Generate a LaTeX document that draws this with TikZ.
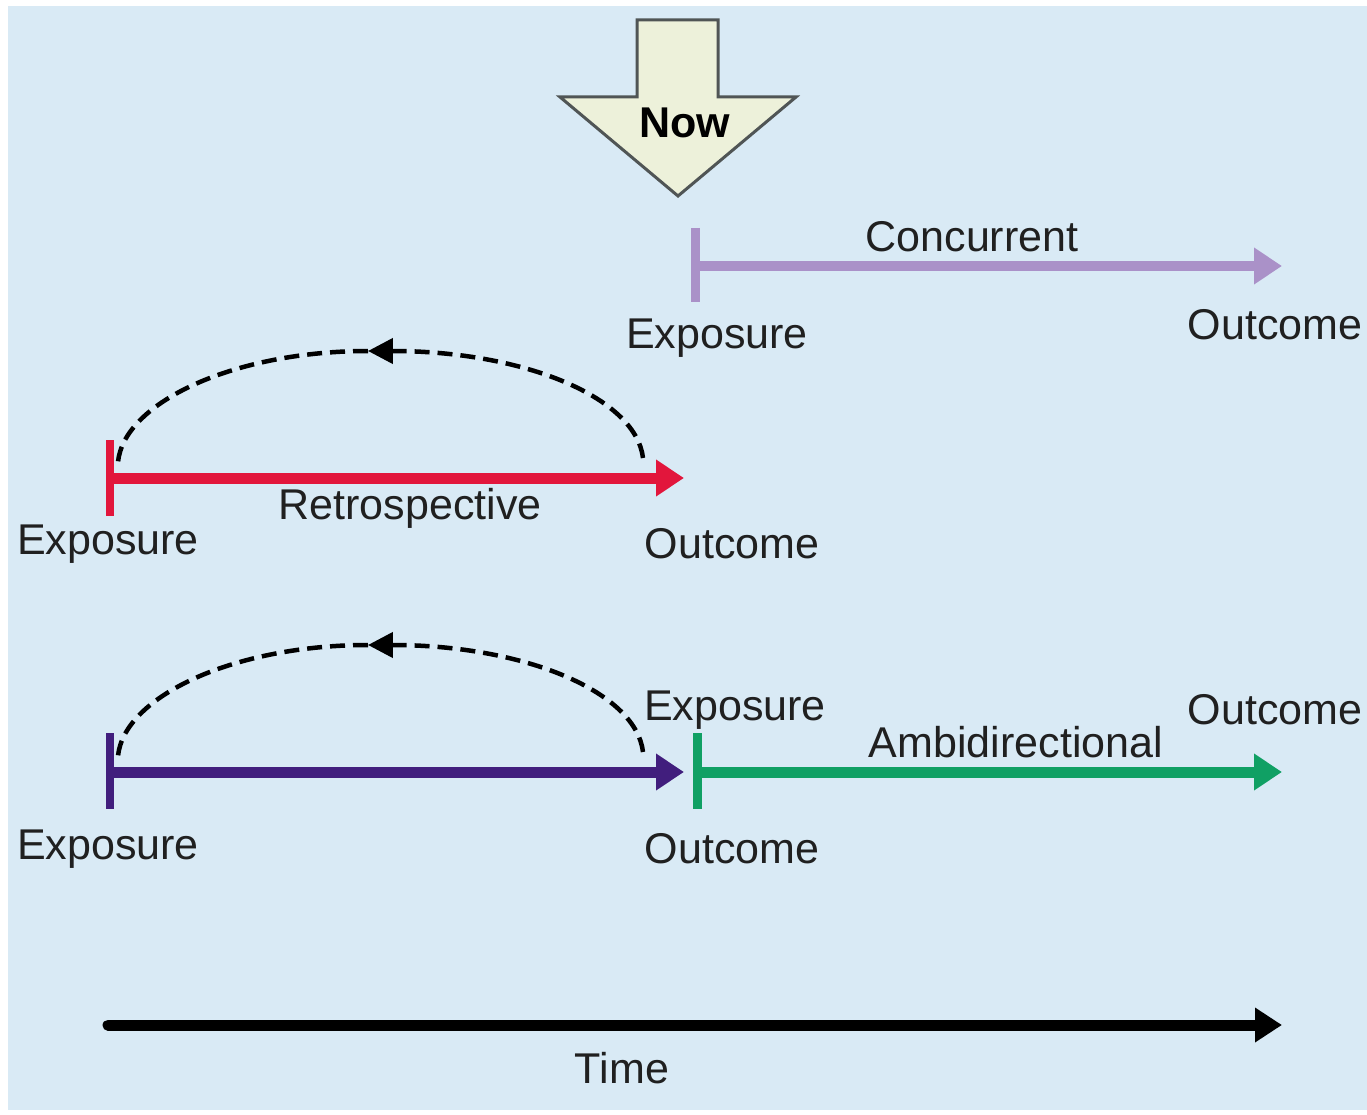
\documentclass[tikz,border=0pt]{standalone}
\usepackage{fontspec}
\setmainfont{Liberation Sans}
\usetikzlibrary{arrows.meta}
\definecolor{bgblue}{RGB}{217,234,245}
\definecolor{nowfill}{RGB}{237,241,218}
\definecolor{nowdraw}{RGB}{80,85,85}
\definecolor{lav}{RGB}{170,145,200}
\definecolor{redl}{RGB}{226,22,60}
\definecolor{purp}{RGB}{65,30,125}
\definecolor{grn}{RGB}{16,160,100}
\definecolor{txt}{RGB}{32,32,32}
\tikzset{
  lbl/.style={font=\fontsize{24.5}{28}\selectfont, text=txt, inner sep=0pt},
  tline/.style={line width=0.22cm, -{Triangle[length=0.56cm,width=0.7cm]}},
  tick/.style={line width=0.18cm},
  back/.style={black, line width=0.09cm, dash pattern=on 0.3cm off 0.16cm, line cap=butt},
  backtip/.style={-{Triangle[length=0.5cm,width=0.5cm]}}
}
\begin{document}
\begin{tikzpicture}[x=0.02cm,y=-0.02cm]
\useasboundingbox (0,0) rectangle (1367,1115);
\fill[white] (0,0) rectangle (1367,1115);
\fill[bgblue] (8,6) rectangle (1367,1110);
% Now arrow
\draw[fill=nowfill, draw=nowdraw, line width=0.06cm, line join=miter]
  (637,20) -- (718,20) -- (718,97) -- (796,97) -- (678,196) -- (560,97) -- (637,97) -- cycle;
\node[lbl, font=\fontsize{24.5}{28}\selectfont\bfseries, text=black] (now) at (685,123) {Now};
% Concurrent
\coordinate (cS) at (695,266);
\coordinate (cE) at (1282,266);
\draw[tick, lav] (695,228) -- (695,302);
\draw[tline, lav] (cS) -- (cE);
\node[lbl] (conc) at (972,237) {Concurrent};
\node[lbl] (cexp) at (717,338) {Exposure};
\node[lbl] (cout) at (1275,325) {Outcome};
% Retrospective
\coordinate (rS) at (110,478);
\coordinate (rE) at (684,478);
\draw[tick, redl] (110,440) -- (110,516);
\draw[tline, redl] (rS) -- (rE);
\node[lbl] (retro) at (410,508) {Retrospective};
\node[lbl] (rexp) at (108,544) {Exposure};
\node[lbl] (rout) at (732,544) {Outcome};
\coordinate (rA) at (643,458);
\coordinate (rP) at (368,351);
\coordinate (rB) at (118,462);
\draw[back, backtip] (rA) .. controls (636,398) and (525,351) .. (rP);
\draw[back] (rP) .. controls (235,351) and (124,402) .. (rB);
% Ambidirectional
\coordinate (aS) at (110,772);
\coordinate (aE) at (684,772);
\coordinate (gS) at (697,772);
\coordinate (gE) at (1282,772);
\draw[tick, purp] (110,733) -- (110,809);
\draw[tline, purp] (aS) -- (aE);
\draw[tick, grn] (697,733) -- (697,809);
\draw[tline, grn] (gS) -- (gE);
\coordinate (aA) at (643,752);
\coordinate (aP) at (368,645);
\coordinate (aB) at (118,756);
\draw[back, backtip] (aA) .. controls (636,692) and (525,645) .. (aP);
\draw[back] (aP) .. controls (235,645) and (124,696) .. (aB);
\node[lbl] (amb) at (1016,742) {Ambidirectional};
\node[lbl] (aexp2) at (735,710) {Exposure};
\node[lbl] (aout2) at (1275,710) {Outcome};
\node[lbl] (aout) at (732,849) {Outcome};
\node[lbl] (aexp) at (108,849) {Exposure};
% Time
\coordinate (tS) at (108,1025);
\coordinate (tE) at (1282,1025);
\draw[line width=0.22cm, black, line cap=round, -{Triangle[length=0.54cm,width=0.66cm]}] (tS) -- (tE);
\node[lbl] (time) at (622,1068) {Time};
\end{tikzpicture}
\end{document}
